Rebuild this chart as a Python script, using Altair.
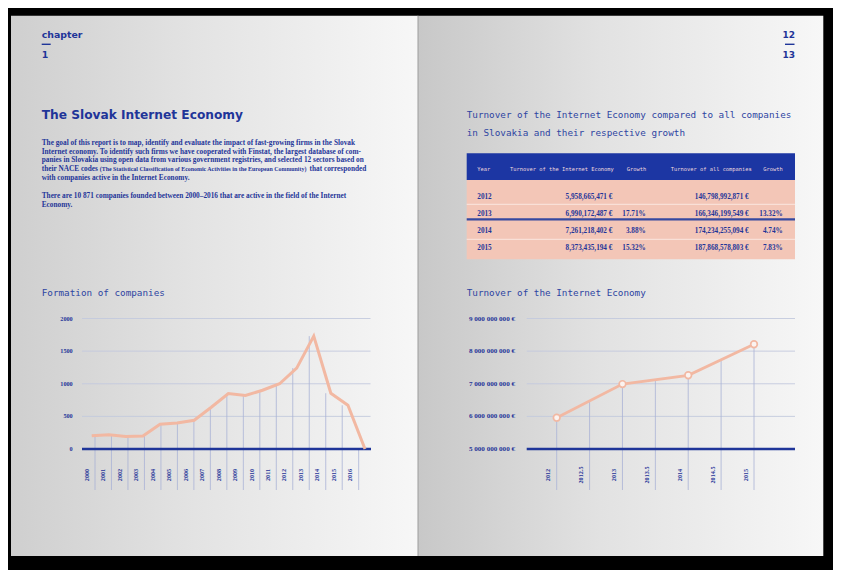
import altair as alt
import pandas as pd

# ---------------- data ----------------
formation_years = list(range(2000, 2017))
formation_counts = [204, 220, 190, 200, 380, 400, 440, 640, 850, 820, 900,
                    1000, 1240, 1730, 855, 670, 0]
formation_y_ticks = [0, 500, 1000, 1500, 2000]

turnover_years = [2012, 2013, 2014, 2015]
turnover_values = [5.96e9, 6.99e9, 7.26e9, 8.21e9]
turnover_x_ticks = [2012, 2012.5, 2013, 2013.5, 2014, 2014.5, 2015]
turnover_x_labels = ["2012", "2012.5", "2013", "2013.5", "2014", "2014.5", "2015"]
turnover_tick_tops = [5.96e9, 6.45e9, 6.99e9, 7.11e9, 7.26e9, 7.72e9, 8.21e9]
turnover_y_ticks = [5e9, 6e9, 7e9, 8e9, 9e9]

table_header = ["Year", "Turnover of the Internet Economy", "Growth",
                "Turnover of all companies", "Growth"]
table_years = [2012, 2013, 2014, 2015]
table_ie = ["5,958,665,471 €", "6,990,172,487 €", "7,261,218,402 €", "8,373,435,194 €"]
table_ie_growth = ["", "17.71%", "3.88%", "15.32%"]
table_all = ["146,798,992,871 €", "166,346,199,549 €", "174,234,255,094 €", "187,868,578,803 €"]
table_all_growth = ["", "13.32%", "4.74%", "7.83%"]

paragraph_1 = [
    "The goal of this report is to map, identify and evaluate the impact of fast-growing firms in the Slovak",
    "Internet economy. To identify such firms we have cooperated with Finstat, the largest database of com-",
    "panies in Slovakia using open data from various government registries, and selected 12 sectors based on",
]
paragraph_1_line4 = ["their NACE codes",
                     "(The Statistical Classification of Economic Activities in the European Community)",
                     "that corresponded"]
paragraph_1_line5 = "with companies active in the Internet Economy."
paragraph_2 = [
    "There are 10 871 companies founded between 2000\u20132016 that are active in the field of the Internet",
    "Economy.",
]

# ---------------- styles ----------------
NAVY = "#1f3599"
TITLE_BLUE = "#2e45a2"
GRID = "#c3c9de"
VRULE = "#a9b2d6"
SALMON = "#f2b8a2"
PINK = "#f3c6b7"
HEADER = "#1c36a3"
MONO = "DejaVu Sans Mono"
SERIF = "Liberation Serif"
SANS = "DejaVu Sans"

OFF = 8  # page margin


def px(v):
    return v - OFF


one = pd.DataFrame({"k": [0]})


def box(x0, y0, x1, y1, **kw):
    return alt.Chart(one).mark_rect(**kw).encode(
        x=alt.value(px(x0)), x2=alt.value(px(x1)),
        y=alt.value(px(y0)), y2=alt.value(px(y1)))


def label(text, x, y, **kw):
    return alt.Chart(one).mark_text(**kw).encode(
        x=alt.value(px(x)), y=alt.value(px(y)), text=alt.value(text))


def hline(x0, x1, y, color, w):
    return alt.Chart(one).mark_rule(color=color, strokeWidth=w).encode(
        x=alt.value(px(x0)), x2=alt.value(px(x1)), y=alt.value(px(y)))


def grad(stops):
    return alt.LinearGradient(
        gradient="linear", x1=0, x2=1, y1=0, y2=0,
        stops=[alt.GradientStop(color=c, offset=o) for o, c in stops])


layers = []

# ---------------- pages ----------------
layers.append(box(11, 15.7, 418, 556, fill=grad([(0, "#cfcfcf"), (0.45, "#e3e3e3"), (1, "#f7f7f7")])))
layers.append(box(418, 15.7, 823.3, 556, fill=grad([(0, "#c8c8c8"), (0.45, "#e2e2e2"), (1, "#f7f7f7")])))
layers.append(alt.Chart(one).mark_rule(color="#9c9c9c", strokeWidth=1).encode(
    x=alt.value(px(418)), y=alt.value(px(15.7)), y2=alt.value(px(556))))

# ---------------- left page texts ----------------
head_kw = dict(font=SANS, fontWeight="bold", color=NAVY, baseline="alphabetic")
layers.append(label("chapter", 41.7, 37.5, align="left", fontSize=9.4, **head_kw))
layers.append(hline(41.7, 50.7, 44.3, NAVY, 1.4))
layers.append(label("1", 41.7, 57.7, align="left", fontSize=9.4, **head_kw))
layers.append(label("12", 795, 38.3, align="right", fontSize=9.0, **head_kw))
layers.append(hline(785, 794.5, 44.3, NAVY, 1.4))
layers.append(label("13", 795, 57.5, align="right", fontSize=9.0, **head_kw))

layers.append(label("The Slovak Internet Economy", 41.7, 119, align="left", fontSize=12.2, **head_kw))

para_kw = dict(font=SERIF, fontWeight="bold", color=NAVY, baseline="alphabetic", align="left")
PFS = 7.3
base_y = [144.7, 153.6, 162.4]
for t, y in zip(paragraph_1, base_y):
    layers.append(label(t, 41.7, y, fontSize=PFS, **para_kw))
layers.append(label(paragraph_1_line4[0], 41.7, 171.3, fontSize=PFS, **para_kw))
layers.append(label(paragraph_1_line4[1], 99.8, 171.3, fontSize=5.9, **para_kw))
layers.append(label(paragraph_1_line4[2], 309.5, 171.3, fontSize=PFS, **para_kw))
layers.append(label(paragraph_1_line5, 41.7, 180.2, fontSize=PFS, **para_kw))
for t, y in zip(paragraph_2, [197.7, 206.6]):
    layers.append(label(t, 41.7, y, fontSize=PFS, **para_kw))

mono_kw = dict(font=MONO, color=TITLE_BLUE, baseline="alphabetic", align="left", fontSize=9.3)
layers.append(label("Formation of companies", 41.7, 295.5, **mono_kw))

# ---------------- left chart: formation of companies ----------------
fdf = pd.DataFrame({"year": formation_years, "count": formation_counts})
fy = alt.Scale(domain=[formation_y_ticks[0], formation_y_ticks[-1]],
               range=[px(449), px(318.5)], nice=False, zero=False)


def fx(a, b):
    return alt.Scale(domain=[formation_years[0], formation_years[-1]],
                     range=[px(a), px(b)], nice=False, zero=False)


layers.append(alt.Chart(pd.DataFrame({"t": formation_y_ticks[1:]})).mark_rule(
    color=GRID, strokeWidth=0.9).encode(
    y=alt.Y("t:Q", scale=fy, axis=None), x=alt.value(px(82)), x2=alt.value(px(370.5))))
layers.append(alt.Chart(fdf).mark_rule(color=VRULE, strokeWidth=0.8).encode(
    x=alt.X("year:Q", scale=fx(95, 358.7), axis=None),
    y=alt.Y("count:Q", scale=fy, axis=None),
    y2=alt.value(px(490))))
layers.append(alt.Chart(pd.DataFrame({"t": formation_y_ticks[:1]})).mark_rule(
    color=NAVY, strokeWidth=2.6).encode(
    y=alt.Y("t:Q", scale=fy, axis=None), x=alt.value(px(82)), x2=alt.value(px(371))))
layers.append(alt.Chart(fdf).mark_line(color=SALMON, strokeWidth=3).encode(
    x=alt.X("year:Q", scale=fx(91.7, 365), axis=None),
    y=alt.Y("count:Q", scale=fy, axis=None)))
layers.append(alt.Chart(pd.DataFrame({"t": formation_y_ticks})).mark_text(
    align="right", baseline="middle", font=SERIF, fontWeight="bold", fontSize=6.2,
    color=NAVY).encode(
    y=alt.Y("t:Q", scale=fy, axis=None), x=alt.value(px(72.7)),
    text=alt.Text("t:Q", format="d")))
layers.append(alt.Chart(fdf).mark_text(
    angle=270, align="center", baseline="middle", font=SERIF, fontWeight="bold",
    fontSize=6.2, color=NAVY).encode(
    x=alt.X("year:Q", scale=fx(86.7, 350.4), axis=None), y=alt.value(px(475)),
    text=alt.Text("year:Q", format="d")))

# ---------------- right page: table ----------------
layers.append(label("Turnover of the Internet Economy compared to all companies", 466.7, 118.3, **mono_kw))
layers.append(label("in Slovakia and their respective growth", 466.7, 135.7, **mono_kw))

layers.append(box(466.7, 153.3, 795, 180, fill=HEADER))
layers.append(box(466.7, 180, 795, 259.3, fill=PINK))
layers.append(hline(466.7, 795, 204.3, "#fbe6df", 1))
layers.append(hline(466.7, 795, 239.3, "#fbe6df", 1))
layers.append(hline(466.7, 795, 219.3, "#3548a0", 2.2))

hdr_kw = dict(font=MONO, fontSize=5.4, color="#eed9de", baseline="middle", align="left")
for t, x in zip(table_header, [477.3, 510, 626.7, 670.7, 763.3]):
    layers.append(label(t, x, 169.3, **hdr_kw))

tdf = pd.DataFrame({"yr": table_years, "ie": table_ie, "ieg": table_ie_growth,
                    "all": table_all, "allg": table_all_growth})
ty = alt.Scale(domain=[table_years[0], table_years[-1]],
               range=[px(196.7), px(248.3)], nice=False, zero=False)


def tcol(field, x, align, fmt=None):
    txt = alt.Text(field, format=fmt) if fmt else alt.Text(field)
    return alt.Chart(tdf).mark_text(
        align=align, baseline="middle", font=SERIF, fontWeight="bold",
        fontSize=7.2, color=NAVY).encode(
        y=alt.Y("yr:Q", scale=ty, axis=None), x=alt.value(px(x)), text=txt)


layers.append(tcol("yr:Q", 477.3, "left", "d"))
layers.append(tcol("ie:N", 612.3, "right"))
layers.append(tcol("ieg:N", 645.7, "right"))
layers.append(tcol("all:N", 748.7, "right"))
layers.append(tcol("allg:N", 782.7, "right"))

# ---------------- right chart: turnover ----------------
layers.append(label("Turnover of the Internet Economy", 466.7, 295.7, **mono_kw))

tvdf = pd.DataFrame({"year": turnover_years, "value": turnover_values})
tkdf = pd.DataFrame({"pos": turnover_x_ticks, "lab": turnover_x_labels, "top": turnover_tick_tops})
tydf = pd.DataFrame({"t": turnover_y_ticks,
                     "lab": [f"{int(v):,}".replace(",", " ") + " \u20ac" for v in turnover_y_ticks]})
vy = alt.Scale(domain=[turnover_y_ticks[0], turnover_y_ticks[-1]],
               range=[px(449), px(318.5)], nice=False, zero=False)


def vx(a, b):
    return alt.Scale(domain=[turnover_years[0], turnover_years[-1]],
                     range=[px(a), px(b)], nice=False, zero=False)


layers.append(alt.Chart(tydf[1:]).mark_rule(color=GRID, strokeWidth=0.9).encode(
    y=alt.Y("t:Q", scale=vy, axis=None), x=alt.value(px(526.7)), x2=alt.value(px(795))))
layers.append(alt.Chart(tkdf).mark_rule(color=VRULE, strokeWidth=0.8).encode(
    x=alt.X("pos:Q", scale=vx(556.7, 754), axis=None),
    y=alt.Y("top:Q", scale=vy, axis=None),
    y2=alt.value(px(490))))
layers.append(alt.Chart(tydf[:1]).mark_rule(color=NAVY, strokeWidth=2.6).encode(
    y=alt.Y("t:Q", scale=vy, axis=None), x=alt.value(px(526.7)), x2=alt.value(px(795))))
layers.append(alt.Chart(tvdf).mark_line(color=SALMON, strokeWidth=2.8).encode(
    x=alt.X("year:Q", scale=vx(556.7, 754), axis=None),
    y=alt.Y("value:Q", scale=vy, axis=None)))
layers.append(alt.Chart(tvdf).mark_point(
    shape="circle", filled=True, fill="#fbf3f0", stroke=SALMON, strokeWidth=1.7,
    size=44, opacity=1).encode(
    x=alt.X("year:Q", scale=vx(556.7, 754), axis=None),
    y=alt.Y("value:Q", scale=vy, axis=None)))
layers.append(alt.Chart(tydf).mark_text(
    align="right", baseline="middle", font=SERIF, fontWeight="bold", fontSize=7.1,
    color=NAVY).encode(
    y=alt.Y("t:Q", scale=vy, axis=None), x=alt.value(px(515)), text=alt.Text("lab:N")))
layers.append(alt.Chart(tkdf).mark_text(
    angle=270, align="center", baseline="middle", font=SERIF, fontWeight="bold",
    fontSize=6.2, color=NAVY).encode(
    x=alt.X("pos:Q", scale=vx(548.4, 745.7), axis=None), y=alt.value(px(475)),
    text=alt.Text("lab:N")))

chart = alt.layer(*layers).resolve_scale(
    x="independent", y="independent"
).properties(
    width=825, height=562, padding=0,
    autosize=alt.AutoSizeParams(type="none"),
    background="#000000",
).configure_view(stroke=None)

chart.save("out.html", embed_options={"renderer": "svg", "actions": False})
